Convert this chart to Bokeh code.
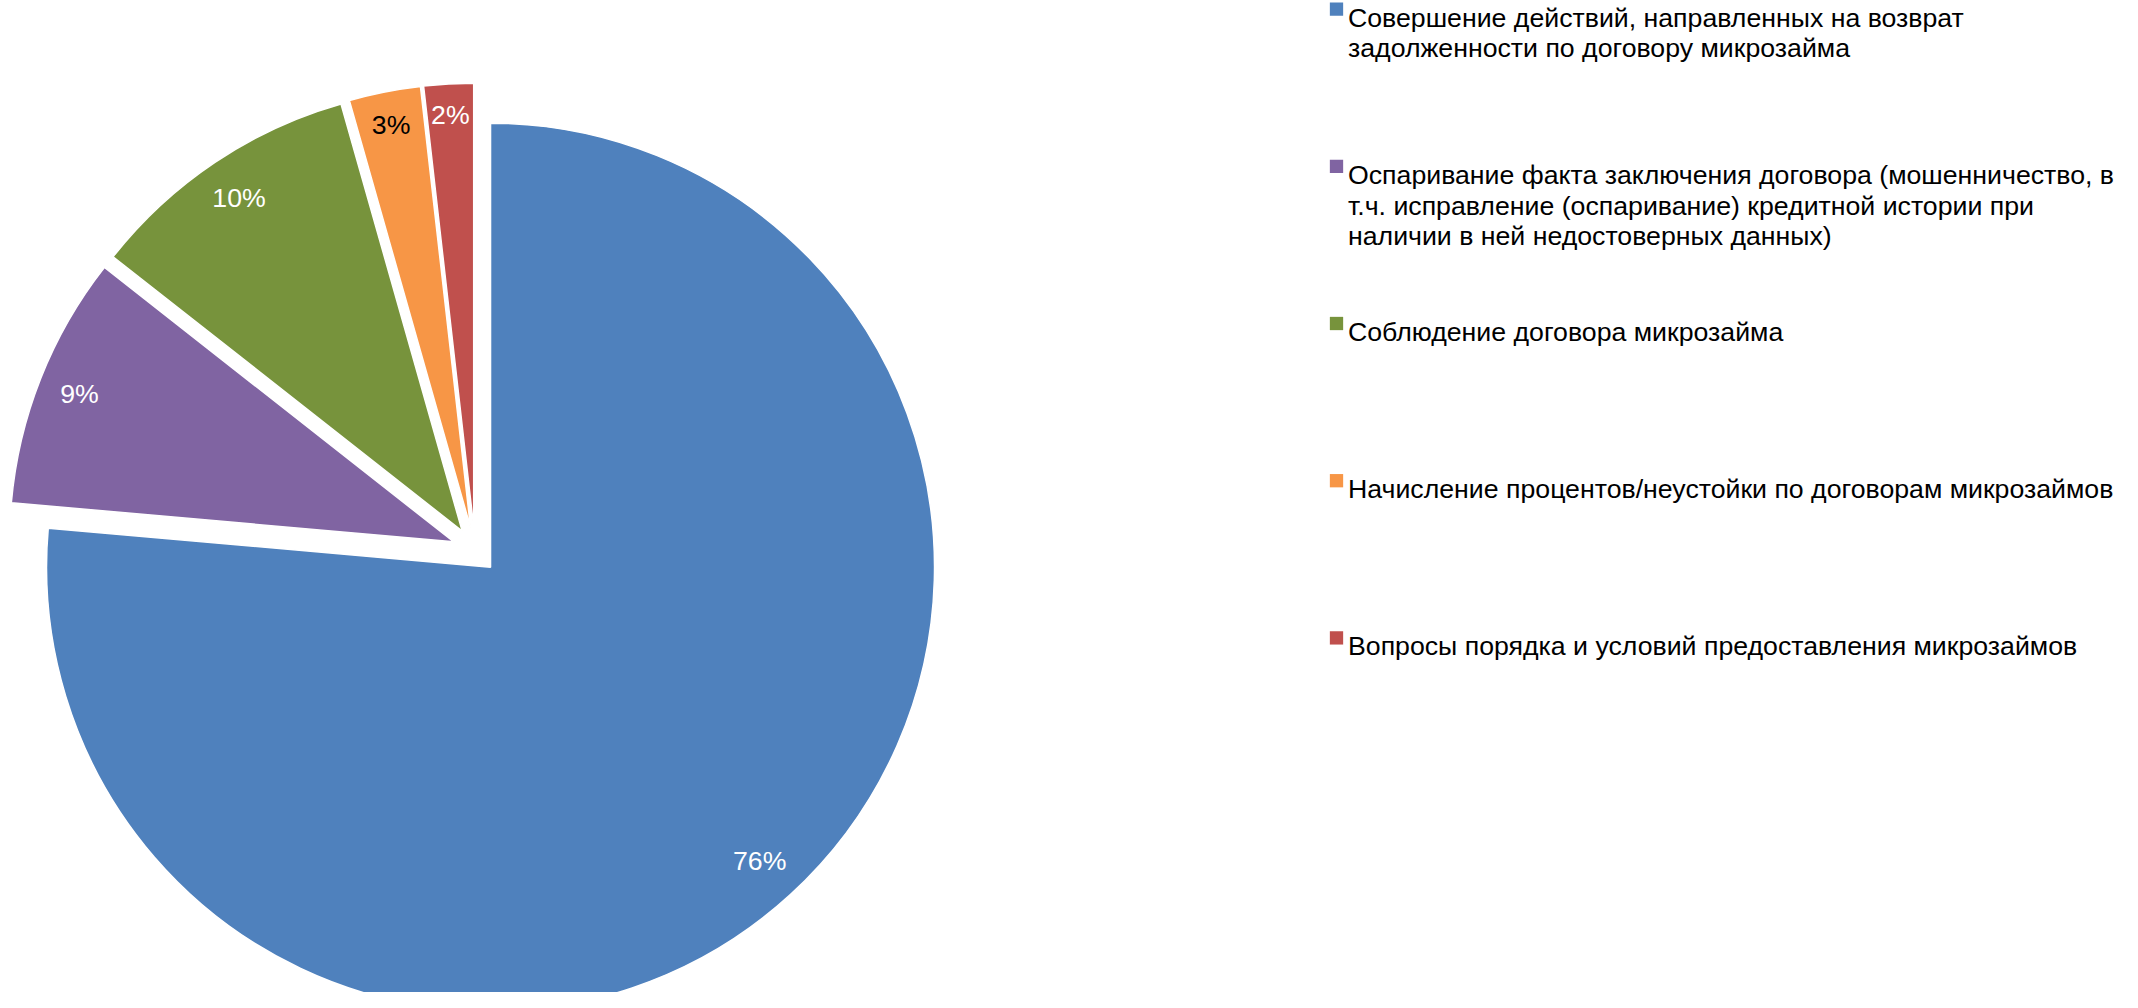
import math
from bokeh.plotting import figure
from bokeh.models import Range1d, ColumnDataSource
from bokeh.core.properties import value
from bokeh.embed import file_html
from bokeh.resources import INLINE

# ---- data ----
categories = [
    "Совершение действий, направленных на возврат\nзадолженности по договору микрозайма",
    "Оспаривание факта заключения договора (мошенничество, в\nт.ч. исправление (оспаривание) кредитной истории при\nналичии в ней недостоверных данных)",
    "Соблюдение договора микрозайма",
    "Начисление процентов/неустойки по договорам микрозаймов",
    "Вопросы порядка и условий предоставления микрозаймов",
]
shares = [76.4, 9.2, 10.0, 2.6, 1.8]
colors = ["#4F81BD", "#8064A2", "#77933C", "#F79646", "#C0504D"]
label_colors = ["white", "white", "white", "black", "white"]

# ---- layout ----
W, H = 2122, 992
FS = 26.7
p = figure(width=W, height=H, output_backend="svg", toolbar_location=None,
           x_range=Range1d(0, W), y_range=Range1d(0, H), min_border=0)
p.xaxis.visible = False
p.yaxis.visible = False
p.xgrid.visible = False
p.ygrid.visible = False
p.outline_line_color = None
p.background_fill_color = "white"
p.border_fill_color = "white"

cx, cy = 474.5, H - 549.7   # pie centre (pixel-equal data units)
R = 444.0
explode = 23.0
margin = 20.0

total = sum(shares)
xs, ys, starts, ends, lx, ly, labels = [], [], [], [], [], [], []
acc = 0.0
for v in shares:
    a0 = acc / total * 360.0           # clockwise from top
    a1 = (acc + v) / total * 360.0
    acc += v
    b = math.radians(90.0 - (a0 + a1) / 2.0)
    ux, uy = math.cos(b), math.sin(b)
    ox = cx + explode * ux
    oy = cy + explode * uy
    xs.append(ox)
    ys.append(oy)
    starts.append(math.radians(90.0 - a1))
    ends.append(math.radians(90.0 - a0))
    lab = f"{int(v / total * 100 + 0.5)}%"
    labels.append(lab)
    # inside-end placement: keep the label box a fixed margin inside the rim
    w = (len(lab) - 1) * 0.556 * FS + 0.889 * FS
    h = 0.75 * FS
    ext = abs(ux) * w / 2 + abs(uy) * h / 2
    r = R - margin - ext
    lx.append(ox + r * ux)
    ly.append(oy + r * uy)

src = ColumnDataSource(dict(x=xs, y=ys, start=starts, end=ends, color=colors,
                            lx=lx, ly=ly, label=labels, lcolor=label_colors))
p.wedge(x="x", y="y", radius=R, start_angle="start", end_angle="end",
        fill_color="color", line_color="white", line_width=1.5, source=src)
p.text(x="lx", y="ly", text="label", text_color="lcolor", source=src,
       text_font=value("Liberation Sans"), text_font_size=f"{FS}px",
       text_align="center", text_baseline="middle")

# ---- legend (drawn manually) ----
leg_x_marker = 1336
leg_x_text = 1347.5
first_base = H - 17.0
pitch = 157.2
line_h = 30.8
mx, my, tx, ty, tt = [], [], [], [], []
for i, cat in enumerate(categories):
    base = first_base - i * pitch
    mx.append(leg_x_marker)
    my.append(base + 8.4)
    for k, line in enumerate(cat.split("\n")):
        tx.append(leg_x_text)
        ty.append(base - k * line_h)
        tt.append(line)
p.rect(x=mx, y=my, width=13.3, height=13.3, fill_color=colors, line_color=None)
p.text(x=tx, y=ty, text=tt, text_color="black",
       text_font=value("Liberation Sans"), text_font_size=f"{FS}px",
       text_align="left", text_baseline="alphabetic")

open("out.html", "w").write(file_html(p, INLINE))
